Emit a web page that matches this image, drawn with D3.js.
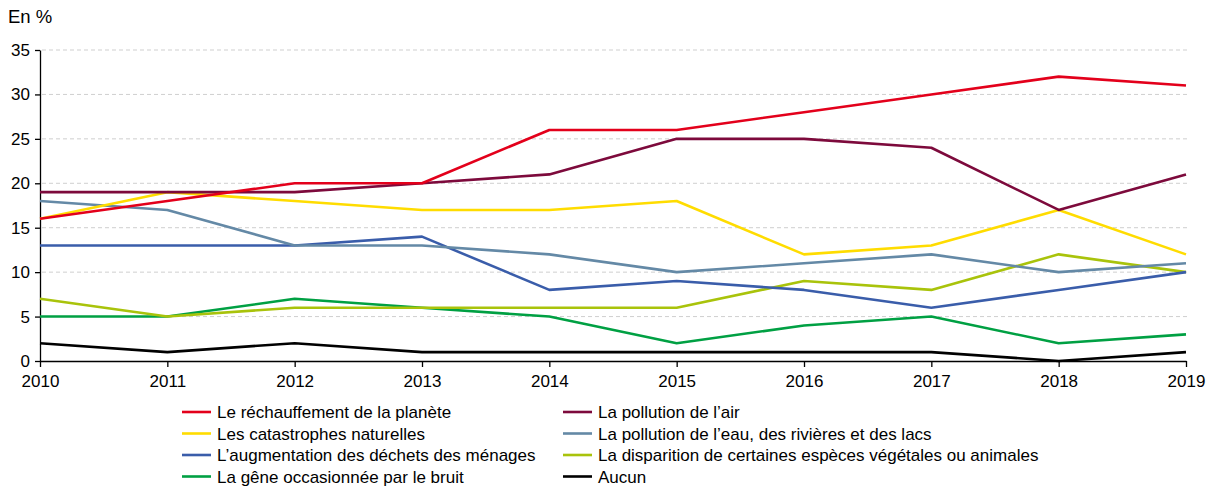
<!DOCTYPE html>
<html>
<head>
<meta charset="utf-8">
<script src="https://cdn.jsdelivr.net/npm/d3@7"></script>
<style>
  body { margin: 0; background: #fff; }
  svg { display: block; font-family: "Liberation Sans", Arial, sans-serif; }
</style>
</head>
<body>
<div id="app"></div>
<script>
const years = [2010, 2011, 2012, 2013, 2014, 2015, 2016, 2017, 2018, 2019]
const yTicks = [0, 5, 10, 15, 20, 25, 30, 35]

const names = [
  "Le réchauffement de la planète",
  "La pollution de l’air",
  "Les catastrophes naturelles",
  "La pollution de l’eau, des rivières et des lacs",
  "L’augmentation des déchets des ménages",
  "La disparition de certaines espèces végétales ou animales",
  "La gêne occasionnée par le bruit",
  "Aucun"
]

const rechauffement = [16, 18, 20, 20, 26, 26, 28, 30, 32, 31]
const pollutionAir = [19, 19, 19, 20, 21, 25, 25, 24, 17, 21]
const catastrophes = [16, 19, 18, 17, 17, 18, 12, 13, 17, 12]
const pollutionEau = [18, 17, 13, 13, 12, 10, 11, 12, 10, 11]
const dechets = [13, 13, 13, 14, 8, 9, 8, 6, 8, 10]
const disparition = [7, 5, 6, 6, 6, 6, 9, 8, 12, 10]
const bruit = [5, 5, 7, 6, 5, 2, 4, 5, 2, 3]
const aucun = [2, 1, 2, 1, 1, 1, 1, 1, 0, 1]

const colors = [
  "#e3001b", // rouge
  "#7d0a3c", // bordeaux
  "#ffdc00", // jaune
  "#6489a6", // bleu gris
  "#3a5daa", // bleu
  "#a9c30b", // vert jaune
  "#00a043", // vert
  "#000000"  // noir
]

const series = [rechauffement, pollutionAir, catastrophes, pollutionEau,
  dechets, disparition, bruit, aucun].map((values, i) => ({
  name: names[i], color: colors[i], values: values
}))

const width = 1213, height = 487
const marginLeft = 40, plotRight = 1186, plotTop = 50, plotBottom = 361

const svg = d3.select("#app")
  .append("svg")
  .attr("width", width)
  .attr("height", height)

const x = d3.scaleLinear().domain([2010, 2019]).range([marginLeft, plotRight])
const y = d3.scaleLinear().domain([0, 35]).range([plotBottom, plotTop])

svg.append("text")
  .attr("x", 8)
  .attr("y", 23)
  .attr("font-size", 18.5)
  .attr("fill", "#000")
  .text("En %")

// grille
svg.append("g")
  .selectAll("line")
  .data(yTicks.filter(d => d > 0))
  .enter()
  .append("line")
  .attr("x1", marginLeft + 2)
  .attr("x2", plotRight + 4)
  .attr("y1", d => y(d))
  .attr("y2", d => y(d))
  .attr("stroke", "#cfcfcf")
  .attr("stroke-width", 1)
  .attr("stroke-dasharray", "4,3")

// axe y
const yAxis = svg.append("g")
  .attr("transform", `translate(${marginLeft},0)`)
  .call(d3.axisLeft(y).tickValues(yTicks).tickSize(5).tickPadding(5).tickSizeOuter(0))
yAxis.select(".domain").attr("stroke", "#000").attr("stroke-width", 1.3)
yAxis.selectAll(".tick line").attr("stroke", "#000").attr("stroke-width", 1.3)
yAxis.selectAll("text").attr("font-size", 17).attr("fill", "#000").attr("font-family", "Liberation Sans, Arial, sans-serif")

// axe x
const xAxis = svg.append("g")
  .attr("transform", `translate(0,${plotBottom})`)
  .call(d3.axisBottom(x).tickValues(years).tickFormat(d3.format("d")).tickSize(6).tickPadding(8).tickSizeOuter(0))
xAxis.select(".domain").attr("stroke", "#000").attr("stroke-width", 1.3)
xAxis.selectAll(".tick line").attr("stroke", "#000").attr("stroke-width", 1.3)
xAxis.selectAll("text").attr("font-size", 17).attr("fill", "#000").attr("font-family", "Liberation Sans, Arial, sans-serif")

// courbes
const line = d3.line()
  .x((d, i) => x(years[i]))
  .y(d => y(d))

svg.append("g")
  .selectAll("path")
  .data(series.slice().reverse())
  .enter()
  .append("path")
  .attr("d", d => line(d.values))
  .attr("fill", "none")
  .attr("stroke", d => d.color)
  .attr("stroke-width", 2.6)
  .attr("stroke-linejoin", "round")

// légende
const legend = svg.append("g")
  .selectAll("g")
  .data(series)
  .enter()
  .append("g")
  .attr("transform", (d, i) => {
    const col = i % 2
    const row = Math.floor(i / 2)
    return `translate(${col === 0 ? 182 : 563},${412 + row * 21.5})`
  })

legend.append("line")
  .attr("x1", 0)
  .attr("x2", 29)
  .attr("y1", 0)
  .attr("y2", 0)
  .attr("stroke", d => d.color)
  .attr("stroke-width", 2.6)

legend.append("text")
  .attr("x", 35)
  .attr("y", 6)
  .attr("font-size", 17)
  .attr("fill", "#000")
  .text(d => d.name)
</script>
</body>
</html>
